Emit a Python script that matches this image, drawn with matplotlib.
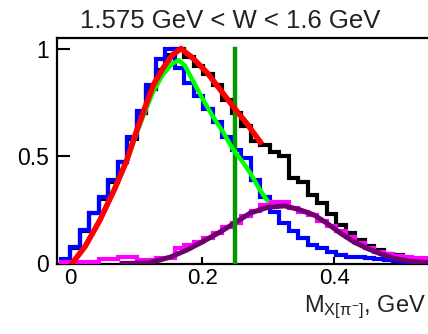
import numpy as np
import matplotlib
matplotlib.use("Agg")
import matplotlib.pyplot as plt

plt.rcParams['font.family'] = ['Liberation Sans', 'DejaVu Sans']
plt.rcParams['mathtext.fontset'] = 'custom'
plt.rcParams['mathtext.rm'] = 'Liberation Sans'
plt.rcParams['mathtext.it'] = 'Liberation Sans:italic'

#%% histogram data (bin width and first edge, then contents per bin)
bin_width = 0.0144
first_edge = -0.0144

data_hist = [0.01, 0.07, 0.15, 0.235, 0.30, 0.38, 0.47, 0.58, 0.70, 0.81,
             0.90, 0.97, 1.0, 0.96, 0.92, 0.88, 0.83, 0.76, 0.70, 0.64,
             0.57, 0.55, 0.52, 0.50, 0.40, 0.38, 0.32, 0.28, 0.23, 0.18,
             0.14, 0.11, 0.08, 0.063, 0.045, 0.04, 0.025, 0.022, 0.02, 0.02]
sim1_hist = [0.02, 0.077, 0.155, 0.235, 0.31, 0.39, 0.47, 0.59, 0.71, 0.83,
             0.95, 1.0, 0.91, 0.84, 0.78, 0.72, 0.66, 0.59, 0.53, 0.49,
             0.39, 0.31, 0.24, 0.19, 0.15, 0.12, 0.085, 0.07, 0.055, 0.04,
             0.03, 0.03, 0.025, 0.02, 0.015, 0.01, 0.005, 0.005, 0.0, 0.0]
sim2_hist = [0.005, 0.005, 0.005, 0.005, 0.02, 0.02, 0.03, 0.03, 0.015, 0.015,
             0.025, 0.025, 0.07, 0.085, 0.10, 0.12, 0.14, 0.17, 0.19, 0.22,
             0.245, 0.27, 0.285, 0.285, 0.26, 0.24, 0.225, 0.2, 0.175, 0.15,
             0.125, 0.095, 0.07, 0.055, 0.045, 0.035, 0.03, 0.025, 0.025, 0.02]

#%% fit curves
total_x = [0.003, 0.023, 0.045, 0.068, 0.086, 0.1, 0.114, 0.126, 0.141, 0.155,
           0.168, 0.186, 0.208, 0.227, 0.247, 0.268, 0.288]
total_y = [0.0, 0.08, 0.2, 0.35, 0.48, 0.61, 0.73, 0.83, 0.91, 0.97,
           1.0, 0.955, 0.886, 0.81, 0.73, 0.65, 0.565]

fit1_x = [0.003, 0.023, 0.045, 0.068, 0.086, 0.1, 0.114, 0.126, 0.141, 0.155,
          0.165, 0.174, 0.186, 0.2, 0.217, 0.232, 0.247, 0.262, 0.273, 0.288, 0.298]
fit1_y = [0.0, 0.08, 0.2, 0.35, 0.48, 0.6, 0.71, 0.8, 0.88, 0.93,
          0.945, 0.92, 0.85, 0.77, 0.68, 0.61, 0.53, 0.47, 0.42, 0.34, 0.295]

fit2_x = [0.079, 0.12, 0.152, 0.177, 0.197, 0.227, 0.25, 0.273, 0.3, 0.325,
          0.348, 0.37, 0.39, 0.41, 0.43, 0.45, 0.47, 0.49, 0.515, 0.545]
fit2_y = [0.0, 0.003, 0.03, 0.063, 0.095, 0.146, 0.19, 0.235, 0.262, 0.268,
          0.25, 0.225, 0.185, 0.14, 0.1, 0.07, 0.045, 0.025, 0.01, 0.004]

cut_x = 0.25
cut_top = 1.0

#%% plot
fig = plt.figure(figsize=(4.28, 3.34), dpi=100)
ax = fig.add_axes([57/428, (334-263.5)/334, 371/428, 225.5/334])

edges = first_edge + bin_width*np.arange(len(data_hist)+1)

ax.stairs(data_hist, edges, color='black', lw=3.0, zorder=2)
ax.stairs(sim1_hist, edges, color='#0000ff', lw=3.0, zorder=3)
ax.stairs(sim2_hist, edges, color='#ff00ff', lw=3.0, zorder=3)
ax.plot(fit2_x, fit2_y, color='#6e006e', lw=3.6, zorder=4)
ax.plot([cut_x, cut_x], [0, cut_top], color='#009a00', lw=3.2, zorder=5)
ax.plot(fit1_x, fit1_y, color='#00ff00', lw=3.2, zorder=6)
ax.plot(total_x, total_y, color='#ff0000', lw=4.0, zorder=7)

ax.set_xlim(-0.0197, 0.542)
ax.set_ylim(0, 1.049)
ax.set_xticks([0, 0.2, 0.4])
ax.set_xticklabels(['0', '0.2', '0.4'])
ax.set_yticks([0, 0.5, 1])
ax.set_yticklabels(['0', '0.5', '1'])
ax.tick_params(axis='x', direction='in', length=5, width=1.5, labelsize=16, pad=3)
ax.tick_params(axis='y', direction='in', length=9, width=1.5, labelsize=16.5, pad=6)
for s in ['left', 'bottom', 'top']:
    ax.spines[s].set_linewidth(1.6)
ax.spines['right'].set_visible(False)

fig.text(230/428, 1-21/334, '1.575 GeV < W < 1.6 GeV', ha='center', va='center',
         fontsize=18.5, color='#222222')
fig.text(0.996, 1-312/334, r'M$_{\mathrm{X[\pi^{-}]}}$, GeV', ha='right',
         va='baseline', fontsize=17, color='#222222')

fig.savefig('out.png', dpi=100)
